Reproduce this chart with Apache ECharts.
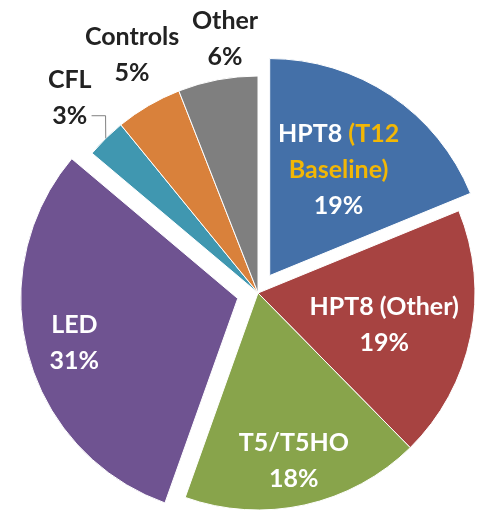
<!DOCTYPE html>
<html>
<head>
<meta charset="utf-8">
<script src="https://cdn.jsdelivr.net/npm/echarts@6/dist/echarts.min.js"></script>
<style>
  html, body { margin: 0; padding: 0; background: #fff; }
  #main { width: 481px; height: 511px; }
</style>
</head>
<body>
<div id="main"></div>
<script>
// slices, clockwise from 12 o'clock
var categories = ['HPT8 (T12 Baseline)', 'HPT8 (Other)', 'T5/T5HO', 'LED', 'CFL', 'Controls', 'Other'];
var shares = [19, 19, 18, 31, 3, 5, 6];
var pulledOut = [true, false, false, true, false, false, false];

var colors = ['#4470a8', '#a74341', '#88a44b', '#6f5391', '#4097b0', '#d9813b', '#7f7f7f'];
var labelInside = [true, true, true, true, false, false, false];
// where each label sits: fraction of radius, and turn (deg) off the slice middle
var labelReach = [0.58, 0.60, 0.79, 0.78, 1.25, 1.24, 1.18];
var labelTurn = [-0.7, 2.7, 0.4, 0, 0.6, 2.4, 3.3];

var cx = 258, cy = 293, R = 217, pull = 21;
var lineH = 36;

var total = shares.reduce(function (a, b) { return a + b; }, 0);
var midAngle = [];
var acc = 0;
for (var i = 0; i < shares.length; i++) {
    midAngle.push((acc + shares[i] / 2) / total * 360);
    acc += shares[i];
}

// coloured slices (two of them pulled out)
var sliceData = categories.map(function (name, i) {
    return {
        name: name,
        value: shares[i],
        selected: pulledOut[i],
        itemStyle: { color: colors[i] }
    };
});

// same slices again, invisible, only to carry the labels
var labelData = categories.map(function (name, i) {
    var isCfl = name === 'CFL';
    return {
        name: name,
        value: shares[i],
        label: {
            color: labelInside[i] ? '#ffffff' : '#222222',
            // extra empty row under CFL so its leader meets the "3%" row
            padding: isCfl ? [0, 0, lineH, 0] : 0
        },
        labelLine: { show: isCfl }
    };
});

var myChart = echarts.init(document.getElementById('main'));

var option = {
    animation: false,
    series: [{
        type: 'pie',
        center: [cx, cy],
        radius: [0, R],
        startAngle: 90,
        clockwise: true,
        selectedMode: 'multiple',
        selectedOffset: pull,
        silent: true,
        itemStyle: { borderColor: '#ffffff', borderWidth: 1 },
        label: { show: false },
        labelLine: { show: false },
        data: sliceData
    }, {
        type: 'pie',
        center: [cx, cy],
        radius: [0, R],
        startAngle: 90,
        clockwise: true,
        silent: true,
        z: 3,
        avoidLabelOverlap: false,
        itemStyle: { color: 'rgba(0,0,0,0)', borderWidth: 0 },
        label: {
            show: true,
            position: 'outside',
            fontFamily: 'Lato',
            fontWeight: 'bold',
            fontSize: 25,
            lineHeight: lineH,
            align: 'center',
            formatter: function (p) {
                if (p.dataIndex === 0) {
                    return '{w|HPT8 }{y|(T12}\n{y|Baseline)}\n{w|' + p.value + '%}';
                }
                return p.name + '\n' + p.value + '%';
            },
            rich: {
                w: { color: '#ffffff', fontFamily: 'Lato', fontWeight: 'bold', fontSize: 25, lineHeight: lineH },
                y: { color: '#f2b705', fontFamily: 'Lato', fontWeight: 'bold', fontSize: 25, lineHeight: lineH }
            }
        },
        labelLine: {
            length: 6,
            length2: 14,
            lineStyle: { color: '#808080', width: 1 }
        },
        labelLayout: function (params) {
            var i = params.dataIndex;
            var a = (midAngle[i] + labelTurn[i]) * Math.PI / 180;
            var m = midAngle[i] * Math.PI / 180;
            var off = pulledOut[i] ? pull : 0;
            var r = labelReach[i] * R;
            var x = cx + r * Math.sin(a) + off * Math.sin(m);
            var y = cy - r * Math.cos(a) - off * Math.cos(m);
            if (categories[i] === 'CFL') {
                y += lineH / 2;
            }
            return { x: x, y: y, align: 'center', verticalAlign: 'middle' };
        },
        data: labelData
    }]
};

myChart.setOption(option);
</script>
</body>
</html>
